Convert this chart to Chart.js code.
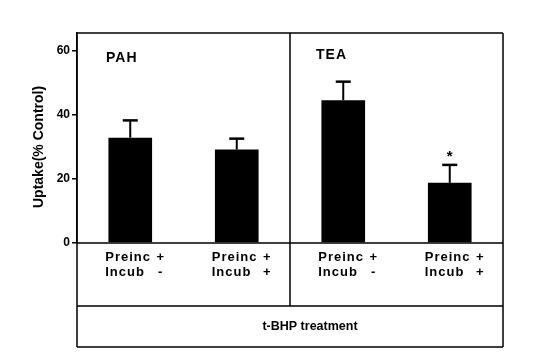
<!DOCTYPE html>
<html>
<head>
<meta charset="utf-8">
<script src="https://cdn.jsdelivr.net/npm/chart.js@4.4.0/dist/chart.umd.min.js"></script>
<style>
html,body{margin:0;padding:0;background:#fff;}
#wrap{width:539px;height:359px;position:relative;}
</style>
</head>
<body>
<div id="wrap"><canvas id="c" width="539" height="359"></canvas></div>
<script>
// data
const categories = ['PAH preinc+ incub-', 'PAH preinc+ incub+', 'TEA preinc+ incub-', 'TEA preinc+ incub+'];
const uptake = [32.9, 29.2, 44.6, 18.8];
const errors = [5.4, 3.4, 5.8, 5.6];
const preincSign = ['+', '+', '+', '+'];
const incubSign = ['-', '+', '-', '+'];
const groups = ['PAH', 'TEA'];
const significant = [false, false, false, true];
const yTicks = [0, 20, 40, 60];

const FONT = '"Liberation Sans", Arial, sans-serif';

// frame, labels, error bars
const extras = {
	id: 'extras',
	afterDatasetsDraw(chart){
		const ctx = chart.ctx;
		const a = chart.chartArea;
		const x = chart.scales.x;
		const y = chart.scales.y;
		const midX = (x.getPixelForValue(1) + x.getPixelForValue(2)) / 2;
		const rowLine = 306, bottom = 347;
		ctx.save();

		// error bars
		ctx.strokeStyle = '#000';
		for (let i = 0; i < uptake.length; i++){
			const px = x.getPixelForValue(i);
			const top = y.getPixelForValue(uptake[i] + errors[i]);
			const base = y.getPixelForValue(uptake[i]);
			ctx.lineWidth = 2;
			ctx.beginPath();
			ctx.moveTo(px, base); ctx.lineTo(px, top);
			ctx.stroke();
			ctx.lineWidth = 2.5;
			ctx.beginPath();
			ctx.moveTo(px - 7.5, top); ctx.lineTo(px + 7.5, top);
			ctx.stroke();
			if (significant[i]){
				ctx.fillStyle = '#000';
				ctx.font = 'bold 15px ' + FONT;
				ctx.textAlign = 'center';
				ctx.textBaseline = 'middle';
				ctx.fillText('*', px, top - 8);
			}
		}

		// frame lines
		ctx.lineWidth = 1.5;
		ctx.beginPath();
		ctx.moveTo(a.left, a.top); ctx.lineTo(a.right, a.top);
		ctx.moveTo(a.left, a.top); ctx.lineTo(a.left, bottom);
		ctx.moveTo(a.right, a.top); ctx.lineTo(a.right, bottom);
		ctx.moveTo(a.left, a.bottom); ctx.lineTo(a.right, a.bottom);
		ctx.moveTo(a.left, rowLine); ctx.lineTo(a.right, rowLine);
		ctx.moveTo(a.left, bottom); ctx.lineTo(a.right, bottom);
		ctx.moveTo(midX, a.top); ctx.lineTo(midX, rowLine);
		ctx.stroke();

		// group names
		ctx.fillStyle = '#000';
		ctx.font = 'bold 14px ' + FONT;
		ctx.textAlign = 'left';
		ctx.textBaseline = 'alphabetic';
		ctx.letterSpacing = '1px';
		ctx.fillText(groups[0], a.left + 29, 62);
		ctx.fillText(groups[1], midX + 26, 59);

		// condition rows
		ctx.font = 'bold 13px ' + FONT;
		for (let i = 0; i < categories.length; i++){
			const px = x.getPixelForValue(i);
			ctx.textAlign = 'left';
			ctx.letterSpacing = '1px';
			ctx.fillText('Preinc', px - 25, 261);
			ctx.fillText('Incub', px - 25, 276);
			ctx.letterSpacing = '0px';
			ctx.textAlign = 'center';
			ctx.fillText(preincSign[i], px + 30, 261);
			ctx.fillText(incubSign[i], px + 30, 276);
		}

		// treatment row
		ctx.font = 'bold 12.5px ' + FONT;
		ctx.textAlign = 'center';
		ctx.textBaseline = 'middle';
		ctx.fillText('t-BHP treatment', (a.left + a.right) / 2 + 20, 327);

		// y title, centred on the tick range
		ctx.translate(39, (y.getPixelForValue(yTicks[0]) + y.getPixelForValue(yTicks[yTicks.length - 1])) / 2);
		ctx.rotate(-Math.PI / 2);
		ctx.font = 'bold 14px ' + FONT;
		ctx.fillText('Uptake(% Control)', 0, 0);
		ctx.restore();
	}
};

const data = {
	labels: categories,
	datasets: [{
		data: uptake,
		backgroundColor: '#000',
		borderWidth: 0,
		barPercentage: 0.41,
		categoryPercentage: 1
	}]
};

const config = {
	type: 'bar',
	data: data,
	options: {
		responsive: false,
		animation: false,
		events: [],
		layout: { padding: { left: 0, top: 33, right: 36, bottom: 116 } },
		plugins: { legend: { display: false }, tooltip: { enabled: false } },
		scales: {
			x: { display: false },
			y: {
				min: 0,
				max: 65.6,
				afterFit(scale){ scale.width = 77; },
				afterBuildTicks(scale){ scale.ticks = yTicks.map(v => ({ value: v })); },
				border: { color: '#000', width: 1.5 },
				grid: { drawOnChartArea: false, color: '#000', tickLength: 5, lineWidth: 1.5 },
				ticks: {
					color: '#000',
					padding: 2,
					font: { family: FONT, size: 12, weight: 'bold' }
				}
			}
		}
	},
	plugins: [extras]
};

new Chart(document.getElementById('c').getContext('2d'), config);
</script>
</body>
</html>
